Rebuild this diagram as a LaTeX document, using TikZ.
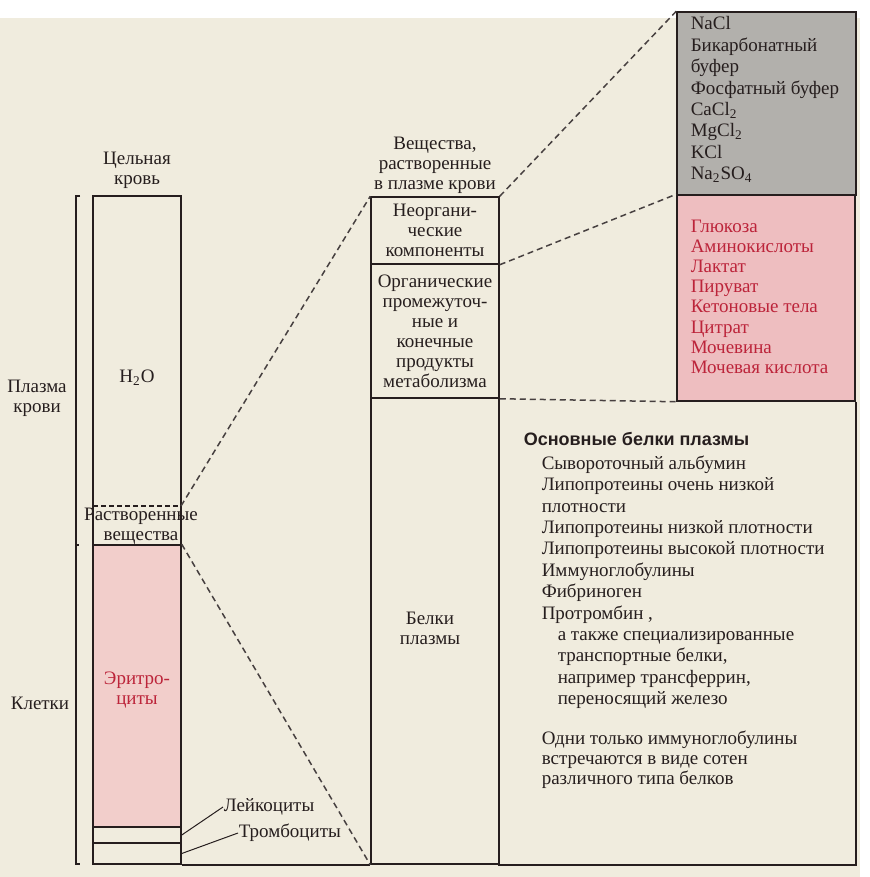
\documentclass[tikz,border=0pt]{standalone}
\usepackage{fontspec}
\setmainfont{Liberation Serif}
\newfontfamily\headfont{Liberation Sans}
\usetikzlibrary{positioning,fit}

\definecolor{paper}{RGB}{240,236,222}
\definecolor{ink}{RGB}{38,30,30}
\definecolor{inkred}{RGB}{188,36,58}
\definecolor{rbcpink}{RGB}{242,206,203}
\definecolor{orgpink}{RGB}{238,190,192}
\definecolor{saltgray}{RGB}{178,176,172}

\begin{document}
\begin{tikzpicture}[x=0.5pt,y=-0.5pt,line width=0.75pt,
    box/.style={draw=ink,inner sep=0pt},
    lbl/.style={font=\fontsize{9.5}{10}\selectfont,align=center,inner sep=0pt,text=ink},
    lst/.style={font=\fontsize{9.5}{10.7}\selectfont,align=left,inner sep=0pt,anchor=north west,text=ink},
    zoomline/.style={draw=ink!85,dash pattern=on 3pt off 2pt},
    leader/.style={draw=ink,line width=0.5pt}]
  % paper
  \fill[white] (0,0) rectangle (869,877);
  \fill[paper] (0,18) rectangle (860,877);
  \useasboundingbox (0,0) rectangle (869,877);

  % whole blood column
  \node[box,fit={(93,196) (181,545)}] (plasma) {};
  \node[box,fit={(93,545) (181,827)},fill=rbcpink] (rbc) {};
  \node[box,fit={(93,827) (181,843)}] (wbc) {};
  \node[box,fit={(93,843) (181,864)}] (plt) {};
  \coordinate (solw) at (93,506);
  \coordinate (sole) at (181,506);
  \draw[ink,dash pattern=on 2.5pt off 1.5pt] (solw) -- (sole);
  \draw[ink] (80,196) -- (76,196) -- (76,864) -- (80,864);
  \draw[ink] (76,545) -- (79,545);

  % plasma solutes column
  \node[box,fit={(371,197) (499,264)}] (inorg) {};
  \node[box,fit={(371,264) (499,398)}] (org) {};
  \node[box,fit={(371,398) (499,864)}] (prot) {};
  \node[box,fit={(677,12) (856,195)},fill=saltgray] (salts) {};
  \node[box,fit={(677,195) (855,401)},fill=orgpink] (metab) {};
  \node[fit={(499,401) (855,864)},inner sep=0pt] (protlist) {};
  \draw[ink] (metab.south east) -- (protlist.south east) -- (protlist.south west);
  \draw[ink] (plt.south east) -- (prot.south west);

  % zoom lines
  \draw[zoomline] (sole) -- (inorg.north west);
  \draw[zoomline] (rbc.north east) -- (prot.south west);
  \draw[zoomline] (inorg.north east) -- (salts.north west);
  \draw[zoomline] (inorg.south east) -- (metab.north west);
  \draw[zoomline] (org.south east) -- (metab.south west);

  % labels, left
  \node[lbl,above=3pt of plasma] (whole) {Цельная\\кровь};
  \node[lbl] (water) at (137,378) {H\textsubscript{2}O};
  \node[lbl] (solutes) at (141,526) {Растворенные\\вещества};
  \node[lbl] (plasmalbl) at (37,398) {Плазма\\крови};
  \node[lbl] (cells) at (40,703) {Клетки};
  \node[lbl,text=inkred] (ery) at (137,690) {Эритро-\\циты};
  \node[lbl,anchor=west] (leuko) at (223,807) {Лейкоциты};
  \node[lbl,anchor=west] (thrombo) at (238,833) {Тромбоциты};
  \draw[leader] (wbc.east) -- (leuko.west);
  \draw[leader] (plt.east) -- (thrombo.west);

  % labels, middle
  \node[lbl,above=1pt of inorg] (dissolved) {Вещества,\\растворенные\\в плазме крови};
  \node[lbl] at (inorg.center) (inorglbl) {Неоргани-\\ческие\\компоненты};
  \node[lbl] at (org.center) (orglbl) {Органические\\промежуточ-\\ные и\\конечные\\продукты\\метаболизма};
  \node[lbl] (protlbl) at (430,628) {Белки\\плазмы};

  % lists, right
  \node[lst] (saltlist) at (690,16) {NaCl\\Бикарбонатный\\буфер\\Фосфатный буфер\\
    CaCl\textsubscript{2}\\MgCl\textsubscript{2}\\KCl\\Na\textsubscript{2}SO\textsubscript{4}};
  \node[lst,text=inkred,font=\fontsize{9.5}{10.1}\selectfont] (metablist) at (690,219)
    {Глюкоза\\Аминокислоты\\Лактат\\Пируват\\Кетоновые тела\\Цитрат\\Мочевина\\Мочевая кислота};
  \node[lst,font=\headfont\bfseries\fontsize{9}{10}\selectfont] (prothead) at (523,432) {Основные белки плазмы};
  \node[lst] (proteins) at (541,455) {Сывороточный альбумин\\Липопротеины очень низкой\\плотности\\
    Липопротеины низкой плотности\\Липопротеины высокой плотности\\Иммуноглобулины\\
    Фибриноген\\Протромбин ,\\\hspace*{8pt}а также специализированные\\
    \hspace*{8pt}транспортные белки,\\\hspace*{8pt}например трансферрин,\\\hspace*{8pt}переносящий железо};
  \node[lst,font=\fontsize{9.5}{10}\selectfont] (ignote) at (541,730)
    {Одни только иммуноглобулины\\встречаются в виде сотен\\различного типа белков};
\end{tikzpicture}
\end{document}
